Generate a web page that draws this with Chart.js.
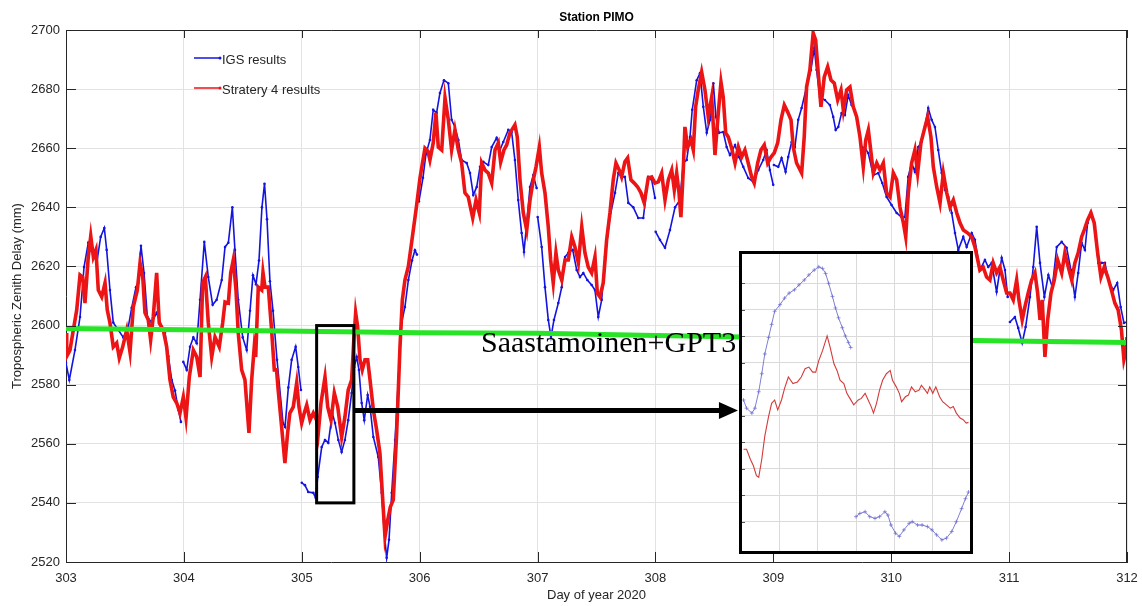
<!DOCTYPE html>
<html>
<head>
<meta charset="utf-8">
<title>Station PIMO</title>
<script src="https://cdn.jsdelivr.net/npm/chart.js@4.4.1/dist/chart.umd.min.js"></script>
<style>
  html, body { margin: 0; padding: 0; background: #fff; }
  #wrap { position: relative; width: 1142px; height: 606px; }
  #main { display: block; }
  #inset { position: absolute; box-sizing: border-box; border: 3px solid #000; background: #fff; }
  #inset canvas { display: block; }
</style>
</head>
<body>
<div id="wrap">
  <canvas id="main" width="1142" height="606"></canvas>
  <div id="inset"><canvas id="insetCanvas"></canvas></div>
</div>
<script>
// ---- axis ticks ----
const dayTicks = [303, 304, 305, 306, 307, 308, 309, 310, 311, 312];
const ztdTicks = [2520, 2540, 2560, 2580, 2600, 2620, 2640, 2660, 2680, 2700];

// ---- IGS final troposphere product (day of year, ZTD mm); null = data gap ----
const igsPts = [
  [303.000,2587.3],[303.028,2581.6],[303.076,2591.7],[303.119,2602.9],[303.153,2619.8],[303.189,2628.0],
  [303.232,2624.6],[303.260,2621.0],[303.294,2630.0],[303.325,2633.0],[303.345,2625.6],[303.373,2612.0],
  [303.401,2601.0],[303.444,2598.5],[303.486,2596.0],[303.528,2599.5],[303.557,2606.0],[303.594,2613.0],
  [303.613,2614.4],[303.636,2627.0],[303.662,2617.8],[303.690,2603.0],[303.727,2601.0],[303.769,2604.3],
  [303.797,2601.0],[303.840,2597.5],[303.868,2589.6],[303.897,2581.6],[303.925,2578.0],[303.953,2571.5],
  [303.975,2567.4],[303.985,null],
  [303.995,2587.7],[304.024,2585.0],[304.052,2592.8],[304.080,2596.0],[304.109,2594.0],[304.137,2608.7],
  [304.173,2628.3],[304.207,2616.4],[304.244,2607.0],[304.278,2608.7],[304.321,2615.4],[304.349,2626.6],
  [304.377,2628.0],[304.411,2640.0],[304.433,2625.6],[304.461,2608.7],[304.499,2596.0],[304.533,2591.7],
  [304.561,2605.0],[304.586,2617.0],[304.612,2614.0],[304.637,2622.0],[304.662,2640.0],[304.684,2648.0],
  [304.705,2636.0],[304.730,2615.0],[304.756,2605.0],[304.790,2588.4],[304.841,2567.0],[304.858,2565.7],
  [304.886,2579.0],[304.914,2588.4],[304.948,2592.8],[304.970,2586.0],[304.993,2578.2],[304.996,null],
  [305.000,2546.8],[305.027,2546.0],[305.055,2543.7],[305.098,2543.4],[305.118,2541.7],[305.135,2548.8],
  [305.169,2558.9],[305.197,2561.3],[305.225,2560.3],[305.259,2570.4],[305.282,2567.0],[305.310,2561.3],
  [305.338,2557.2],[305.366,2561.3],[305.394,2568.0],[305.423,2577.2],[305.445,2586.0],[305.466,2589.4],
  [305.485,2585.0],[305.508,2573.8],[305.530,2568.0],[305.559,2576.5],[305.579,2572.5],[305.607,2562.3],
  [305.649,2555.5],[305.678,2543.4],[305.700,2529.8],[305.720,2521.4],[305.740,2527.5],[305.763,2543.4],
  [305.791,2561.3],[305.819,2581.6],[305.847,2600.9],[305.875,2606.3],[305.904,2615.4],[305.935,2622.0],
  [305.960,2625.5],[305.977,2624.0],[305.985,null],
  [305.994,2642.0],[306.028,2650.0],[306.053,2658.0],[306.087,2662.8],[306.115,2673.0],[306.144,2672.0],
  [306.172,2678.7],[306.206,2683.0],[306.243,2682.0],[306.271,2669.6],[306.299,2667.2],[306.328,2662.8],
  [306.356,2656.0],[306.399,2655.0],[306.427,2651.6],[306.455,2644.2],[306.484,2646.9],[306.512,2653.7],
  [306.540,2655.4],[306.582,2654.3],[306.611,2660.4],[306.653,2663.5],[306.681,2659.4],[306.709,2662.1],
  [306.752,2666.2],[306.780,2665.5],[306.808,2656.0],[306.836,2642.5],[306.865,2631.3],[306.885,2624.9],
  [306.908,2634.7],[306.936,2646.9],[306.964,2650.9],[306.992,2646.5],[306.996,null],
  [307.001,2636.7],[307.035,2626.6],[307.063,2613.0],[307.091,2601.9],[307.114,2596.1],[307.139,2601.9],
  [307.176,2607.6],[307.205,2613.0],[307.233,2623.2],[307.261,2624.6],[307.298,2625.6],[307.332,2618.8],
  [307.360,2616.4],[307.388,2617.8],[307.422,2615.4],[307.459,2613.7],[307.487,2612.0],[307.515,2602.9],
  [307.544,2608.7],[307.572,2623.2],[307.614,2636.7],[307.657,2644.9],[307.685,2651.6],[307.713,2650.3],
  [307.741,2650.3],[307.770,2641.5],[307.812,2640.0],[307.854,2636.4],[307.897,2636.4],[307.939,2650.3],
  [307.968,2649.3],[307.996,2643.2],[307.999,null],
  [308.002,2631.7],[308.038,2629.0],[308.081,2626.3],[308.123,2632.3],[308.166,2640.0],[308.208,2642.5],
  [308.236,2655.0],[308.265,2656.0],[308.293,2663.8],[308.312,2673.0],[308.350,2683.0],[308.378,2685.4],
  [308.406,2674.0],[308.435,2665.2],[308.463,2669.6],[308.491,2682.0],[308.513,2670.6],[308.539,2665.2],
  [308.575,2665.5],[308.604,2660.4],[308.632,2657.7],[308.675,2661.1],[308.709,2657.0],[308.745,2653.7],
  [308.787,2649.9],[308.830,2648.6],[308.872,2652.6],[308.914,2656.0],[308.943,2659.4],[308.971,2652.6],
  [308.999,2647.6],[309.002,null],
  [309.005,2654.3],[309.042,2653.7],[309.070,2656.7],[309.104,2652.0],[309.126,2657.0],[309.155,2662.1],
  [309.183,2660.4],[309.211,2669.6],[309.240,2673.6],[309.282,2680.7],[309.319,2686.5],[309.347,2693.9],
  [309.367,2686.5],[309.395,2677.3],[309.438,2676.3],[309.480,2674.6],[309.508,2670.6],[309.529,2666.2],
  [309.551,2667.2],[309.579,2671.9],[309.607,2671.2],[309.635,2678.0],[309.664,2674.6],[309.692,2672.9],
  [309.720,2667.2],[309.749,2660.4],[309.777,2660.1],[309.805,2658.4],[309.848,2650.9],[309.890,2651.6],
  [309.924,2648.2],[309.961,2643.5],[310.003,2640.8],[310.046,2638.1],[310.088,2636.7],[310.116,2636.7],
  [310.144,2650.3],[310.173,2655.0],[310.201,2652.0],[310.229,2660.4],[310.258,2662.1],[310.286,2667.2],
  [310.314,2673.6],[310.343,2669.6],[310.371,2667.2],[310.399,2659.4],[310.428,2651.6],[310.456,2645.9],
  [310.484,2643.5],[310.513,2638.1],[310.541,2631.3],[310.569,2625.6],[310.611,2630.0],[310.640,2626.6],
  [310.683,2631.3],[310.710,2629.0],[310.752,2618.8],[310.795,2622.2],[310.823,2619.8],[310.852,2621.2],
  [310.894,2611.4],[310.937,2622.9],[310.965,2618.8],[310.988,2609.7],[310.997,null],
  [311.007,2601.2],[311.049,2602.9],[311.077,2599.2],[311.111,2594.1],[311.140,2599.5],[311.177,2609.7],
  [311.205,2619.8],[311.234,2633.4],[311.262,2621.2],[311.299,2609.7],[311.333,2617.1],[311.367,2613.0],
  [311.404,2626.6],[311.446,2628.3],[311.488,2626.3],[311.524,2618.8],[311.558,2609.7],[311.586,2617.8],
  [311.615,2628.0],[311.643,2625.6],[311.666,2634.7],[311.694,2638.4],[311.728,2633.4],[311.756,2621.2],
  [311.785,2621.2],[311.813,2621.2],[311.841,2615.4],[311.883,2612.0],[311.917,2614.4],[311.946,2606.3],
  [311.974,2600.9],[312.000,2601.2]
];

// ---- PPP solution, strategy 4 (day of year, ZTD mm) ----
const s4Pts = [
  [303.000,2597.5],[303.006,2589.6],[303.034,2591.7],[303.062,2598.5],[303.091,2605.3],[303.119,2617.1],
  [303.142,2616.4],[303.161,2607.6],[303.189,2623.2],[303.210,2630.3],[303.232,2623.2],[303.254,2625.6],
  [303.274,2612.0],[303.303,2609.7],[303.331,2614.4],[303.350,2605.3],[303.373,2600.9],[303.401,2592.8],
  [303.430,2594.1],[303.452,2589.0],[303.481,2592.8],[303.515,2598.5],[303.543,2591.0],[303.571,2606.3],
  [303.605,2612.0],[303.628,2621.2],[303.651,2616.4],[303.670,2604.3],[303.698,2601.9],[303.718,2595.1],
  [303.740,2602.9],[303.769,2617.8],[303.791,2600.9],[303.825,2598.5],[303.854,2592.8],[303.882,2581.6],
  [303.910,2575.8],[303.939,2573.8],[303.967,2570.4],[303.995,2575.8],[304.018,2568.7],[304.046,2582.6],
  [304.080,2591.7],[304.109,2589.4],[304.137,2582.6],[304.159,2614.4],[304.182,2616.4],[304.207,2600.9],
  [304.236,2589.4],[304.264,2596.1],[304.300,2592.8],[304.329,2600.9],[304.349,2608.0],[304.377,2607.6],
  [304.397,2617.8],[304.419,2622.2],[304.442,2612.0],[304.461,2597.5],[304.490,2585.0],[304.518,2581.6],
  [304.552,2563.7],[304.575,2581.6],[304.597,2592.8],[304.609,2589.4],[304.631,2613.0],[304.660,2612.0],
  [304.671,2618.0],[304.688,2613.0],[304.716,2613.0],[304.744,2598.5],[304.767,2585.0],[304.786,2585.0],
  [304.800,2578.2],[304.829,2565.7],[304.857,2553.5],[304.880,2563.7],[304.899,2570.4],[304.928,2572.5],
  [304.957,2580.6],[304.976,2572.5],[304.999,2567.0],[305.021,2570.4],[305.042,2573.1],[305.070,2568.0],
  [305.098,2570.4],[305.126,2568.0],[305.140,2563.7],[305.163,2573.8],[305.197,2582.6],[305.220,2572.5],
  [305.248,2568.0],[305.276,2577.2],[305.305,2572.5],[305.338,2562.3],[305.366,2569.1],[305.394,2578.2],
  [305.423,2581.6],[305.440,2594.1],[305.457,2604.3],[305.474,2599.5],[305.494,2588.4],[305.513,2585.0],
  [305.536,2588.4],[305.559,2588.4],[305.579,2581.6],[305.607,2571.5],[305.635,2564.7],[305.663,2556.8],
  [305.683,2543.4],[305.706,2528.5],[305.729,2534.2],[305.751,2538.6],[305.776,2541.0],[305.805,2563.7],
  [305.833,2592.8],[305.853,2608.7],[305.875,2615.4],[305.904,2620.0],[305.938,2630.0],[305.972,2640.0],
  [306.003,2650.0],[306.045,2660.0],[306.070,2659.0],[306.087,2656.0],[306.115,2661.8],[306.138,2672.0],
  [306.158,2660.4],[306.187,2659.4],[306.215,2677.0],[306.243,2669.6],[306.271,2659.4],[306.299,2666.2],
  [306.328,2659.4],[306.356,2655.0],[306.384,2644.9],[306.412,2643.5],[306.450,2636.4],[306.478,2642.5],
  [306.506,2638.1],[306.526,2655.0],[306.554,2652.6],[306.582,2651.6],[306.611,2648.2],[306.639,2659.4],
  [306.667,2661.8],[306.687,2655.3],[306.715,2659.4],[306.738,2661.1],[306.766,2665.2],[306.808,2667.9],
  [306.828,2663.8],[306.851,2649.3],[306.879,2638.1],[306.908,2632.3],[306.936,2642.5],[306.964,2649.3],
  [306.987,2653.7],[307.015,2660.4],[307.035,2651.6],[307.063,2644.9],[307.091,2633.4],[307.111,2622.2],
  [307.133,2614.4],[307.156,2624.6],[307.176,2618.8],[307.205,2615.4],[307.233,2622.2],[307.261,2622.2],
  [307.290,2630.0],[307.317,2626.6],[307.346,2621.2],[307.375,2633.4],[307.402,2624.6],[307.430,2619.8],
  [307.459,2617.8],[307.487,2623.2],[307.507,2611.0],[307.529,2609.7],[307.557,2614.4],[307.586,2629.0],
  [307.614,2638.1],[307.642,2649.3],[307.665,2655.0],[307.693,2652.6],[307.713,2650.3],[307.741,2655.4],
  [307.764,2656.7],[307.792,2649.3],[307.820,2648.2],[307.849,2646.9],[307.877,2644.9],[307.905,2641.5],
  [307.939,2649.9],[307.968,2650.3],[307.996,2648.2],[308.024,2648.6],[308.053,2651.6],[308.081,2642.5],
  [308.109,2649.3],[308.138,2652.6],[308.160,2645.9],[308.180,2651.6],[308.200,2644.9],[308.216,2636.7],
  [308.236,2652.6],[308.250,2667.2],[308.273,2660.4],[308.301,2662.8],[308.321,2659.4],[308.341,2674.0],
  [308.363,2679.7],[308.392,2685.8],[308.420,2679.7],[308.448,2670.6],[308.477,2677.3],[308.505,2657.7],
  [308.533,2671.9],[308.556,2682.4],[308.575,2677.3],[308.596,2665.2],[308.618,2663.8],[308.646,2660.1],
  [308.675,2655.0],[308.703,2660.4],[308.731,2657.0],[308.759,2659.4],[308.787,2655.0],[308.816,2650.3],
  [308.838,2648.2],[308.867,2655.0],[308.895,2659.4],[308.923,2661.1],[308.952,2655.0],[308.980,2657.0],
  [309.008,2658.4],[309.037,2661.8],[309.065,2669.6],[309.093,2674.6],[309.121,2672.3],[309.150,2669.6],
  [309.169,2660.4],[309.197,2655.0],[309.240,2651.6],[309.262,2663.8],[309.282,2680.7],[309.310,2686.5],
  [309.338,2699.0],[309.359,2696.6],[309.381,2685.4],[309.404,2674.0],[309.432,2684.1],[309.461,2687.5],
  [309.489,2683.1],[309.517,2682.0],[309.546,2676.3],[309.574,2679.7],[309.594,2672.9],[309.622,2679.7],
  [309.650,2680.7],[309.678,2674.0],[309.707,2670.6],[309.735,2663.8],[309.763,2653.7],[309.784,2662.8],
  [309.806,2666.2],[309.829,2658.4],[309.848,2651.6],[309.877,2655.0],[309.905,2652.6],[309.933,2655.0],
  [309.961,2644.9],[309.990,2643.5],[310.018,2651.6],[310.046,2649.3],[310.074,2640.1],[310.103,2634.7],
  [310.123,2630.0],[310.145,2644.9],[310.173,2655.0],[310.201,2659.4],[310.224,2651.6],[310.252,2661.8],
  [310.280,2666.2],[310.309,2670.6],[310.337,2663.8],[310.357,2653.7],[310.386,2646.9],[310.414,2641.5],
  [310.442,2651.6],[310.471,2644.9],[310.499,2640.1],[310.527,2642.5],[310.556,2638.1],[310.584,2634.7],
  [310.612,2632.3],[310.649,2631.3],[310.683,2630.0],[310.710,2626.6],[310.752,2618.8],[310.780,2619.8],
  [310.809,2616.4],[310.837,2615.4],[310.865,2621.2],[310.894,2617.8],[310.922,2619.8],[310.950,2615.4],
  [310.979,2611.0],[311.007,2611.0],[311.035,2608.7],[311.064,2615.4],[311.083,2608.7],[311.111,2601.9],
  [311.134,2606.3],[311.162,2611.0],[311.191,2615.4],[311.219,2617.8],[311.242,2611.0],[311.262,2601.9],
  [311.281,2608.7],[311.304,2589.4],[311.327,2601.9],[311.355,2611.0],[311.383,2615.4],[311.412,2622.2],
  [311.446,2617.8],[311.473,2624.6],[311.502,2619.8],[311.531,2615.4],[311.558,2621.2],[311.586,2624.6],
  [311.615,2630.0],[311.637,2632.3],[311.666,2635.7],[311.694,2638.1],[311.722,2634.7],[311.751,2624.6],
  [311.779,2616.4],[311.807,2619.8],[311.837,2616.4],[311.868,2612.0],[311.897,2607.6],[311.925,2605.3],
  [311.953,2598.5],[311.974,2588.4],[311.994,2591.7],[312.000,2596.1]
];

// ---- a-priori model ZTD (Saastamoinen + GPT3) ----
const modelPts = [
  [303,2599.0],[304,2598.6],[305,2598.1],[306,2597.6],[307,2597.4],[308,2596.6],
  [309,2596.0],[310,2595.4],[311,2594.8],[312,2594.3]
];

// ---- enlarged window: ticks and series ----
const insetDayTicks = [305.15, 305.20, 305.25, 305.30, 305.35];
const insetZtdTicks = [2544, 2546, 2548, 2550, 2552, 2554, 2556, 2558, 2560, 2562];
const insetIgsA = [
  [305.102,2553.19],[305.106,2552.57],[305.113,2552.20],[305.117,2552.57],[305.122,2553.81],[305.126,2555.17],
  [305.130,2556.66],[305.135,2557.90],[305.139,2558.89],[305.143,2559.88],[305.150,2560.38],[305.156,2560.87],
  [305.162,2561.25],[305.169,2561.50],[305.175,2561.87],[305.182,2562.24],[305.188,2562.62],[305.195,2562.99],
  [305.201,2563.23],[305.206,2563.11],[305.210,2562.73],[305.214,2561.99],[305.219,2561.00],[305.223,2560.13],
  [305.227,2559.39],[305.232,2558.64],[305.236,2558.02],[305.240,2557.53],[305.243,2557.15]
];
const insetIgsB = [
  [305.250,2544.39],[305.255,2544.63],[305.262,2544.76],[305.268,2544.39],[305.275,2544.26],[305.281,2544.39],
  [305.288,2544.76],[305.292,2544.51],[305.296,2543.76],[305.302,2543.14],[305.307,2542.90],[305.313,2543.39],
  [305.320,2543.89],[305.324,2544.01],[305.331,2543.76],[305.337,2543.76],[305.344,2543.64],[305.350,2543.39],
  [305.356,2543.02],[305.363,2542.64],[305.369,2542.77],[305.376,2543.27],[305.382,2544.01],[305.389,2545.00],
  [305.394,2545.75],[305.398,2546.25]
];
const insetS4 = [
  [305.102,2549.47],[305.106,2549.47],[305.111,2548.72],[305.115,2548.23],[305.119,2547.48],[305.122,2547.36],
  [305.126,2548.72],[305.130,2550.46],[305.135,2551.95],[305.139,2552.94],[305.143,2553.19],[305.147,2552.44],
  [305.152,2553.19],[305.156,2554.06],[305.161,2554.92],[305.167,2554.43],[305.173,2554.55],[305.178,2554.92],
  [305.183,2555.55],[305.188,2555.67],[305.193,2555.29],[305.197,2555.29],[305.201,2556.16],[305.206,2556.91],
  [305.212,2558.02],[305.216,2557.15],[305.221,2555.92],[305.225,2555.42],[305.229,2554.68],[305.234,2554.43],
  [305.238,2553.69],[305.242,2553.31],[305.247,2552.82],[305.253,2553.19],[305.257,2553.31],[305.262,2553.69],
  [305.266,2553.19],[305.270,2552.69],[305.273,2552.20],[305.277,2552.94],[305.281,2553.93],[305.285,2554.68],
  [305.290,2555.17],[305.295,2555.42],[305.298,2554.68],[305.303,2554.18],[305.307,2553.69],[305.310,2553.06],
  [305.315,2553.43],[305.319,2553.56],[305.323,2554.18],[305.328,2553.81],[305.333,2553.93],[305.336,2554.30],
  [305.341,2553.93],[305.344,2553.69],[305.347,2554.18],[305.351,2553.69],[305.355,2554.18],[305.360,2553.43],
  [305.364,2553.06],[305.369,2552.82],[305.374,2552.57],[305.378,2552.69],[305.382,2552.20],[305.387,2551.83],
  [305.391,2551.70],[305.395,2551.45],[305.398,2551.50]
];

// ---- annotation geometry, in data units of the main axes ----
const zoomBox = { x0: 305.126, x1: 305.442, y0: 2540, y1: 2600 };
const arrowTo = { x: 308.70, y: 2571.3 };
const modelLabel = { text: 'Saastamoinen+GPT3', x: 306.52, y: 2590.9 };
const insetFrame = { x0: 308.708, x1: 310.693, y0: 2625.24, y1: 2522.73 };

const toXY = pts => pts.map(p => ({ x: p[0], y: p[1] }));

const SANS = '"Liberation Sans", Arial, Helvetica, sans-serif';
const AXIS_INK = '#262626';
const GRID = '#e2e2e2';
const IGS_BLUE = '#1414e0';
const S4_RED = '#ec1414';
const MODEL_GREEN = '#27e427';

const figureExtras = {
  id: 'figureExtras',
  afterDatasetsDraw(chart) {
    const { ctx, chartArea: a, scales: { x, y } } = chart;
    const X = v => x.getPixelForValue(v);
    const Y = v => y.getPixelForValue(v);
    ctx.save();

    // axes frame (top/right) and inward tick marks
    ctx.strokeStyle = AXIS_INK;
    ctx.lineWidth = 1;
    ctx.beginPath();
    ctx.moveTo(a.left, a.top + 0.5); ctx.lineTo(a.right, a.top + 0.5);
    ctx.moveTo(a.right - 0.5, a.top); ctx.lineTo(a.right - 0.5, a.bottom);
    x.ticks.forEach(t => {
      const px = Math.round(X(t.value)) + 0.5;
      ctx.moveTo(px, a.bottom); ctx.lineTo(px, a.bottom - 10);
      ctx.moveTo(px, a.top); ctx.lineTo(px, a.top + 8);
    });
    y.ticks.forEach(t => {
      const py = Math.round(Y(t.value)) + 0.5;
      ctx.moveTo(a.left, py); ctx.lineTo(a.left + 10, py);
      ctx.moveTo(a.right, py); ctx.lineTo(a.right - 9, py);
    });
    ctx.stroke();

    // model label
    ctx.fillStyle = '#000';
    ctx.font = '30px "Liberation Serif", "Times New Roman", serif';
    ctx.textAlign = 'left';
    ctx.textBaseline = 'alphabetic';
    ctx.fillText(modelLabel.text, X(modelLabel.x), Y(modelLabel.y));

    // zoom window
    ctx.strokeStyle = '#000';
    ctx.lineWidth = 3;
    ctx.strokeRect(X(zoomBox.x0), Y(zoomBox.y1), X(zoomBox.x1) - X(zoomBox.x0), Y(zoomBox.y0) - Y(zoomBox.y1));

    // arrow to the enlarged view
    const ay = Y(arrowTo.y), ax0 = X(zoomBox.x1), ax1 = X(arrowTo.x);
    ctx.lineWidth = 5;
    ctx.beginPath(); ctx.moveTo(ax0, ay); ctx.lineTo(ax1 - 14, ay); ctx.stroke();
    ctx.beginPath();
    ctx.moveTo(ax1, ay); ctx.lineTo(ax1 - 19, ay - 8.5); ctx.lineTo(ax1 - 19, ay + 8.5);
    ctx.closePath(); ctx.fill();

    // legend (inside the axes, no frame)
    const entries = chart.data.datasets.filter(d => d.legendRow !== undefined);
    ctx.font = '13px ' + SANS;
    ctx.textBaseline = 'middle';
    entries.forEach(d => {
      const ly = a.top + 28 + d.legendRow * 30;
      const lx = a.left + 128;
      ctx.strokeStyle = d.borderColor;
      ctx.lineWidth = 1.5;
      ctx.beginPath(); ctx.moveTo(lx, ly); ctx.lineTo(lx + 26, ly); ctx.stroke();
      ctx.fillStyle = d.borderColor;
      ctx.beginPath(); ctx.arc(lx + 26, ly, 1.5, 0, Math.PI * 2); ctx.fill();
      ctx.fillStyle = AXIS_INK;
      ctx.fillText(d.label, lx + 28, ly + 2);
    });
    ctx.restore();
  }
};

const mainChart = new Chart(document.getElementById('main'), {
  type: 'line',
  data: {
    datasets: [
      { label: 'Saastamoinen+GPT3', data: toXY(modelPts), borderColor: MODEL_GREEN, borderWidth: 5,
        pointRadius: 0, pointHoverRadius: 0, tension: 0 },
      { label: 'Stratery 4 results', legendRow: 1, data: toXY(s4Pts), borderColor: S4_RED, borderWidth: 3.6,
        pointRadius: 0, pointHoverRadius: 0, tension: 0, spanGaps: false },
      { label: 'IGS results', legendRow: 0, data: toXY(igsPts), borderColor: IGS_BLUE, borderWidth: 1.6,
        pointRadius: 1.3, pointHoverRadius: 0, pointBorderWidth: 0, pointBackgroundColor: IGS_BLUE,
        tension: 0, spanGaps: false }
    ]
  },
  options: {
    responsive: false,
    animation: false,
    devicePixelRatio: 1,
    events: [],
    layout: { autoPadding: false, padding: { left: 0, right: 15, top: 0, bottom: 0 } },
    plugins: {
      legend: { display: false },
      tooltip: { enabled: false },
      title: {
        display: true, text: 'Station PIMO', color: '#000', fullSize: false,
        font: { family: SANS, size: 12, weight: 'bold' },
        padding: { top: 10, bottom: 5.6 }
      }
    },
    scales: {
      x: {
        type: 'linear', min: 303, max: 312,
        afterBuildTicks: s => { s.ticks = dayTicks.map(v => ({ value: v })); },
        afterFit: s => { s.height = 44; s.paddingLeft = 0; s.paddingRight = 0; },
        ticks: { color: AXIS_INK, font: { family: SANS, size: 13 }, padding: 9, maxRotation: 0,
                 callback: v => String(v) },
        grid: { color: GRID, drawTicks: false },
        border: { display: true, color: AXIS_INK, width: 1 },
        title: { display: true, text: 'Day of year 2020', color: AXIS_INK,
                 font: { family: SANS, size: 13 }, padding: { top: 0, bottom: 3 } }
      },
      y: {
        type: 'linear', min: 2520, max: 2700,
        afterBuildTicks: s => { s.ticks = ztdTicks.map(v => ({ value: v })); },
        afterFit: s => { s.width = 66; s.paddingTop = 0; s.paddingBottom = 0; },
        ticks: { color: AXIS_INK, font: { family: SANS, size: 13 }, padding: 6,
                 callback: v => String(v) },
        grid: { color: GRID, drawTicks: false },
        border: { display: true, color: AXIS_INK, width: 1 },
        title: { display: true, text: 'Tropospheric Zenith Delay (mm)', color: AXIS_INK,
                 font: { family: SANS, size: 13 }, padding: { top: 10, bottom: 0 } }
      }
    }
  },
  plugins: [figureExtras]
});

// ---- enlarged view, placed over the main axes ----
const mx = mainChart.scales.x, my = mainChart.scales.y;
const fL = Math.round(mx.getPixelForValue(insetFrame.x0));
const fR = Math.round(mx.getPixelForValue(insetFrame.x1));
const fT = Math.round(my.getPixelForValue(insetFrame.y0));
const fB = Math.round(my.getPixelForValue(insetFrame.y1));
const insetDiv = document.getElementById('inset');
insetDiv.style.left = fL + 'px';
insetDiv.style.top = fT + 'px';
insetDiv.style.width = (fR - fL) + 'px';
insetDiv.style.height = (fB - fT) + 'px';
const insetCanvas = document.getElementById('insetCanvas');
insetCanvas.width = fR - fL - 6;
insetCanvas.height = fB - fT - 6;

// short inward ticks on the left edge of the enlarged view
const insetTicks = {
  id: 'insetTicks',
  afterDatasetsDraw(chart) {
    const { ctx, chartArea: a, scales: { y } } = chart;
    ctx.save();
    ctx.strokeStyle = '#555';
    ctx.lineWidth = 1;
    ctx.beginPath();
    y.ticks.forEach(t => {
      const py = Math.round(y.getPixelForValue(t.value)) + 0.5;
      ctx.moveTo(a.left, py); ctx.lineTo(a.left + 3, py);
    });
    ctx.stroke();
    ctx.restore();
  }
};

const IGS_SOFT = 'rgba(105,105,205,0.85)';
new Chart(insetCanvas, {
  type: 'line',
  data: {
    datasets: [
      { data: toXY(insetS4), borderColor: '#d43a3a', borderWidth: 1.1, pointRadius: 0, pointHoverRadius: 0,
        tension: 0 },
      { data: toXY(insetIgsA), borderColor: IGS_SOFT, borderWidth: 1, pointStyle: 'cross',
        pointRadius: 2, pointHoverRadius: 0, pointBorderWidth: 0.8, pointBorderColor: IGS_SOFT, tension: 0 },
      { data: toXY(insetIgsB), borderColor: IGS_SOFT, borderWidth: 1, pointStyle: 'cross',
        pointRadius: 2, pointHoverRadius: 0, pointBorderWidth: 0.8, pointBorderColor: IGS_SOFT, tension: 0 }
    ]
  },
  options: {
    responsive: false,
    animation: false,
    devicePixelRatio: 1,
    events: [],
    layout: { autoPadding: false, padding: 0 },
    plugins: { legend: { display: false }, tooltip: { enabled: false }, title: { display: false } },
    scales: {
      x: {
        type: 'linear', min: 305.10, max: 305.40,
        afterBuildTicks: s => { s.ticks = insetDayTicks.map(v => ({ value: v })); },
        afterFit: s => { s.height = 0; s.paddingLeft = 0; s.paddingRight = 0; },
        ticks: { display: false },
        grid: { color: '#dadada', drawTicks: false },
        border: { display: false }
      },
      y: {
        type: 'linear', min: 2541.8, max: 2564.2,
        afterBuildTicks: s => { s.ticks = insetZtdTicks.map(v => ({ value: v })); },
        afterFit: s => { s.width = 0; s.paddingTop = 0; s.paddingBottom = 0; },
        ticks: { display: false },
        grid: { color: '#dadada', drawTicks: false },
        border: { display: false }
      }
    }
  },
  plugins: [insetTicks]
});
</script>
</body>
</html>
